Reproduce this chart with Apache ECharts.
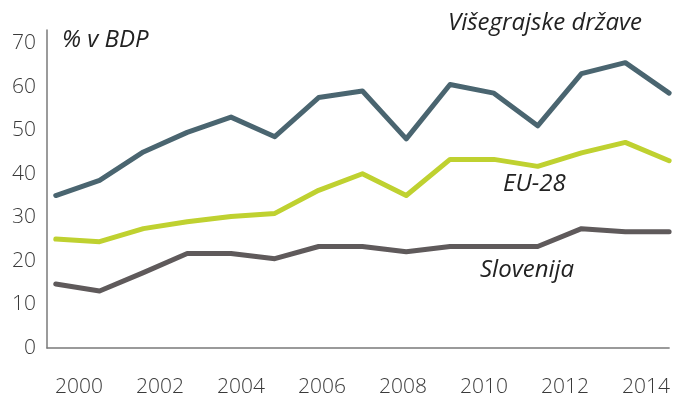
<!DOCTYPE html>
<html>
<head>
<meta charset="utf-8">
<script src="https://cdn.jsdelivr.net/npm/echarts@6/dist/echarts.min.js"></script>
<style>
  html, body { margin: 0; padding: 0; background: #fff; }
  #chart { width: 673px; height: 400px; }
</style>
</head>
<body>
<div id="chart"></div>
<script>
// leta in vrednosti (% v BDP)
var years = [2000, 2001, 2002, 2003, 2004, 2005, 2006, 2007, 2008, 2009, 2010, 2011, 2012, 2013, 2014];
var visegrad = [35, 38.5, 45, 49.5, 53, 48.5, 57.5, 59, 48, 60.5, 58.5, 51, 63, 65.5, 58.5];
var eu28 = [25, 24.4, 27.4, 29, 30.2, 30.9, 36.2, 40, 35, 43.3, 43.3, 41.7, 44.8, 47.2, 43];
var slovenija = [14.7, 13.1, 17.3, 21.7, 21.7, 20.5, 23.3, 23.3, 22.1, 23.3, 23.3, 23.3, 27.4, 26.7, 26.7];
var yearLabels = [2000, 2002, 2004, 2006, 2008, 2010, 2012, 2014];
var yTicks = [0, 10, 20, 30, 40, 50, 60, 70];

function pairs(vals) {
  return years.map(function (y, i) { return [y, vals[i]]; });
}

var chart = echarts.init(document.getElementById('chart'));
var font = '"Open Sans", "DejaVu Sans", sans-serif';

var lineSeries = function (name, vals, color) {
  return {
    name: name,
    type: 'line',
    xAxisIndex: 0,
    data: pairs(vals),
    symbol: 'none',
    lineStyle: { color: color, width: 5, cap: 'round', join: 'round' },
    silent: true
  };
};

chart.setOption({
  animation: false,
  grid: { left: 47, right: 3, top: 30, bottom: 52 },
  xAxis: [
    {
      // os za podatke
      type: 'value',
      min: 1999.8,
      max: 2014,
      axisLine: { show: true, lineStyle: { color: '#7a7a7a', width: 1.5 } },
      axisTick: { show: false },
      axisLabel: { show: false },
      splitLine: { show: false }
    },
    {
      // os za oznake let
      type: 'value',
      position: 'bottom',
      min: 1999.21,
      max: 2014.57,
      axisLine: { show: false },
      axisTick: { show: false },
      splitLine: { show: false },
      axisLabel: {
        customValues: yearLabels,
        formatter: function (v) { return String(v); },
        margin: 29,
        color: '#3a3a3a',
        fontSize: 21,
        fontFamily: font,
        fontWeight: 300
      }
    }
  ],
  yAxis: {
    type: 'value',
    min: 0,
    max: 73,
    axisLine: { show: true, lineStyle: { color: '#7a7a7a', width: 1.5 } },
    axisTick: { show: false },
    splitLine: { show: false },
    axisLabel: {
      customValues: yTicks,
      margin: 11,
      color: '#3a3a3a',
      fontSize: 21,
      fontFamily: font,
      fontWeight: 300
    }
  },
  series: [
    lineSeries('Slovenija', slovenija, '#5f5a5b'),
    lineSeries('EU-28', eu28, '#bfd130'),
    lineSeries('Višegrajske države', visegrad, '#4a6570')
  ],
  graphic: [
    { type: 'text', left: 62, top: 28, style: { text: '% v BDP', fontSize: 24, fontStyle: 'italic', fontFamily: font, fill: '#222' } },
    { type: 'text', left: 448, top: 11, style: { text: 'Višegrajske države', fontSize: 24, fontStyle: 'italic', fontFamily: font, fill: '#222' } },
    { type: 'text', left: 503, top: 172, style: { text: 'EU-28', fontSize: 24, fontStyle: 'italic', fontFamily: font, fill: '#222' } },
    { type: 'text', left: 480, top: 258, style: { text: 'Slovenija', fontSize: 24, fontStyle: 'italic', fontFamily: font, fill: '#222' } }
  ]
});
</script>
</body>
</html>
